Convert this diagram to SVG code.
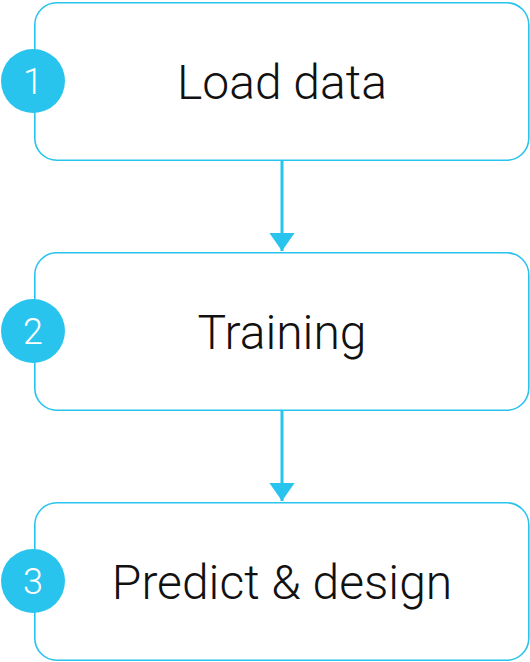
<svg xmlns="http://www.w3.org/2000/svg" width="530" height="662" viewBox="0 0 530 662">
<style>
.box{fill:#fff;stroke:#29c4ee;stroke-width:1.6}
.badge{fill:#29c4ee}
.lbl{font-family:Roboto,"Liberation Sans",sans-serif;font-weight:300;font-size:48px;fill:#111;text-anchor:middle}
.num{font-family:Roboto,"Liberation Sans",sans-serif;font-weight:300;font-size:36px;fill:#fff;text-anchor:middle}
.conn{stroke:#29c4ee;stroke-width:3;fill:none}
</style>
<defs>
<marker id="ah" markerWidth="6" markerHeight="8.4" refX="6" refY="4.2" orient="auto" markerUnits="strokeWidth">
<path d="M0,0 L6,4.2 L0,8.4 Z" fill="#29c4ee"/>
</marker>
</defs>
<g id="connectors">
<line class="conn" x1="282" y1="161" x2="282" y2="251" marker-end="url(#ah)"/>
<line class="conn" x1="282" y1="411" x2="282" y2="501" marker-end="url(#ah)"/>
</g>
<g id="node1">
<rect class="box" x="34.8" y="2.8" width="494" height="157.4" rx="22"/>
<circle class="badge" cx="33" cy="81" r="32"/>
<text class="num" x="33" y="94">1</text>
<text class="lbl" x="282" y="99">Load data</text>
</g>
<g id="node2">
<rect class="box" x="34.8" y="252.8" width="494" height="157.4" rx="22"/>
<circle class="badge" cx="33" cy="331" r="32"/>
<text class="num" x="33" y="344">2</text>
<text class="lbl" x="282" y="349">Training</text>
</g>
<g id="node3">
<rect class="box" x="34.8" y="502.8" width="494" height="157.4" rx="22"/>
<circle class="badge" cx="33" cy="581" r="32"/>
<text class="num" x="33" y="594">3</text>
<text class="lbl" x="282" y="599">Predict &amp; design</text>
</g>
</svg>
